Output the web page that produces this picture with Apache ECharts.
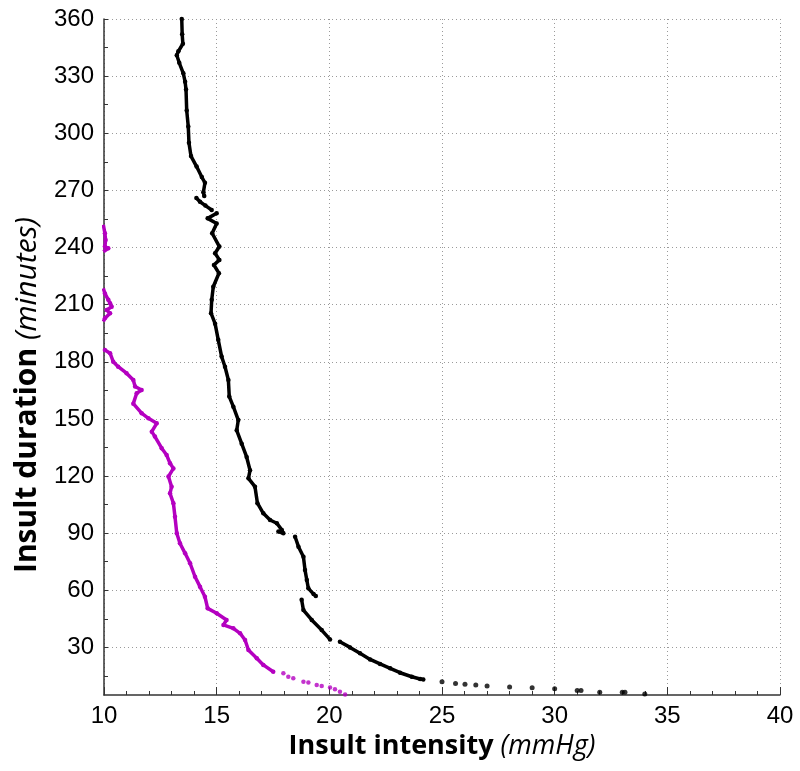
<!DOCTYPE html>
<html>
<head>
<meta charset="utf-8">
<script src="https://cdn.jsdelivr.net/npm/echarts@6/dist/echarts.min.js"></script>
<style>
  html, body { margin: 0; padding: 0; background: #fff; }
  #chart { width: 800px; height: 771px; }
</style>
</head>
<body>
<div id="chart"></div>
<script>
// tick values
const xTicks = [10, 15, 20, 25, 30, 35, 40]
const yTicks = [30, 60, 90, 120, 150, 180, 210, 240, 270, 300, 330, 360]
const yMinorTicks = [15, 45, 75, 105, 135, 165, 195, 225, 255, 285, 315, 345]

// black curve, [intensity mmHg, duration min]
const blackTop = [
  [13.45, 360], [13.47, 352], [13.5, 347], [13.3, 343], [13.23, 341], [13.34, 337],
  [13.52, 331.5], [13.6, 327], [13.64, 323], [13.67, 312], [13.74, 303.5],
  [13.77, 295], [13.86, 288], [14.11, 282.5], [14.34, 277], [14.48, 274],
  [14.41, 269], [14.45, 267]
]
const blackDash = [[14.1, 266], [14.26, 264], [14.5, 262], [14.78, 259.7]]
const blackMid = [
  [15.0, 258], [14.6, 255.3], [15.0, 252.6], [14.8, 247.5], [15.12, 240.5],
  [14.93, 237], [15.12, 233.5], [14.88, 230.8], [15.1, 226.5], [14.85, 219.4],
  [14.78, 212.5], [14.75, 205.5], [14.93, 200], [15.07, 191.5], [15.22, 182.7],
  [15.37, 177.4], [15.52, 170.4], [15.56, 161.7], [15.74, 156.4], [15.96, 149.4],
  [15.89, 144], [16.11, 137], [16.33, 130], [16.48, 123], [16.41, 118.8],
  [16.7, 114.4], [16.81, 105.7], [17.07, 100.4], [17.37, 96.9], [17.67, 95.2],
  [17.89, 91.7], [17.96, 89.9], [17.74, 90.8]
]
const blackLow = [
  [18.48, 88.1], [18.63, 82.9], [18.85, 77.6], [18.92, 70.7], [19.0, 65.4],
  [19.07, 61], [19.3, 58], [19.4, 57]
]
const blackKnee = [
  [18.77, 55], [18.85, 49.6], [19.22, 44.4], [19.66, 39.1], [20.03, 34.2]
]
const blackFoot = [
  [20.47, 33], [20.92, 30], [21.36, 26.9], [21.81, 23.7], [22.25, 21.3],
  [22.7, 19], [23.14, 16.7], [23.66, 14.6], [24.03, 13.4], [24.17, 13.2]
]
const blackTail = [
  [25.0, 12], [25.6, 11.1], [26.02, 10.6], [26.5, 10.3], [27.0, 9.7],
  [28.0, 9.2], [29.0, 8.8], [30.0, 8.3], [31.0, 7.3], [31.17, 7.3],
  [32.0, 6.4], [33.0, 6.4], [33.12, 6.4], [34.0, 5.5]
]

// magenta curve
const magentaTop = [
  [9.97, 251.9], [10.04, 247.5], [10.07, 244], [10.04, 240.5], [10.19, 239.6], [9.97, 237.8]
]
const magentaMid = [
  [9.97, 218.6], [10.04, 215.9], [10.19, 212.5], [10.27, 210.7], [10.34, 208.9],
  [10.12, 207.2], [10.27, 205.5], [10.04, 202.8], [9.97, 201.1]
]
const magentaLow = [
  [10.04, 186.2], [10.27, 184.5], [10.41, 180], [10.63, 177.4], [11.0, 174],
  [11.3, 170.4], [11.38, 167], [11.67, 165.2], [11.45, 163.5], [11.3, 158],
  [11.67, 153], [11.97, 150.3], [12.34, 147.7], [12.12, 143.3], [12.26, 140.7],
  [12.56, 134.6], [12.78, 131], [12.93, 126.7], [13.08, 124], [12.86, 119.7],
  [13.0, 114.4], [12.93, 110.9], [13.08, 105.7], [13.15, 98.6], [13.23, 89.9],
  [13.37, 84.7], [13.6, 79.4], [13.82, 74.2], [14.04, 67.1], [14.26, 61.9],
  [14.48, 56.6], [14.6, 50.5], [15.0, 47.9], [15.44, 44.4], [15.3, 41.8],
  [15.74, 40], [16.04, 37.4], [16.26, 33.9], [16.41, 28.6], [16.78, 24.3],
  [17.07, 20.8], [17.51, 17.2]
]
const magentaTail = [
  [17.96, 16.4], [18.18, 14.6], [18.4, 13.8], [18.85, 12], [19.07, 11.5],
  [19.44, 10.3], [19.66, 9.7], [20.03, 9], [20.25, 8], [20.47, 6.7], [20.7, 5.2]
]

const BLACK = '#000000'
const MAGENTA = '#b400c0'

function lineSeries(data, color) {
  return {
    type: 'line',
    data: data,
    symbol: 'circle',
    symbolSize: 4.5,
    showSymbol: true,
    showAllSymbol: true,
    itemStyle: { color: color },
    lineStyle: { color: color, width: 3.5 },
    animation: false,
    z: 3
  }
}

function dotSeries(data, color, size) {
  return {
    type: 'scatter',
    data: data,
    symbol: 'circle',
    symbolSize: size,
    itemStyle: { color: color },
    animation: false,
    z: 3
  }
}

function nameRich(size) {
  return {
    b: { fontFamily: 'Open Sans', fontWeight: 'bold', fontSize: size, color: '#000' },
    i: { fontFamily: 'Open Sans', fontStyle: 'italic', fontSize: size, color: '#000' }
  }
}

const chart = echarts.init(document.getElementById('chart'))

const option = {
  backgroundColor: '#fff',
  grid: { left: 104, right: 20, top: 19, bottom: 76 },
  xAxis: {
    type: 'value',
    min: 10,
    max: 40,
    interval: 5,
    name: '{b|Insult intensity}{i| (mmHg)}',
    nameLocation: 'middle',
    nameGap: 38,
    nameTextStyle: { rich: nameRich(27) },
    axisLine: { onZero: false, lineStyle: { color: '#333', width: 1.5 } },
    axisTick: { inside: true, length: 8, lineStyle: { color: '#333' } },
    minorTick: { show: true, splitNumber: 5, length: 4, lineStyle: { color: '#333' } },
    axisLabel: {
      fontFamily: 'Liberation Sans',
      fontSize: 24,
      color: '#000',
      margin: 9,
      customValues: xTicks
    },
    splitLine: { show: true, lineStyle: { color: '#9a9a9a', type: [1, 3], width: 1 } }
  },
  yAxis: [
    {
      type: 'value',
      min: 5,
      max: 360,
      name: '{b|Insult duration}{i| (minutes)}',
      nameLocation: 'middle',
      nameGap: 62,
      nameTextStyle: { padding: [0, 76, 0, 0], rich: nameRich(30) },
      axisLine: { show: true, onZero: false, lineStyle: { color: '#333', width: 1.5 } },
      axisTick: { show: true, inside: true, length: 4, customValues: yTicks, lineStyle: { color: '#333' } },
      axisLabel: {
        fontFamily: 'Liberation Sans',
        fontSize: 24,
        color: '#000',
        margin: 10,
        customValues: yTicks
      },
      splitLine: { show: true, lineStyle: { color: '#9a9a9a', type: [1, 3], width: 1 } }
    },
    {
      type: 'value',
      min: 5,
      max: 360,
      position: 'left',
      axisLine: { show: false },
      axisLabel: { show: false },
      splitLine: { show: false },
      axisTick: { show: true, inside: true, length: 4, customValues: yMinorTicks, lineStyle: { color: '#333' } }
    }
  ],
  series: [
    lineSeries(blackTop, BLACK),
    lineSeries(blackDash, BLACK),
    lineSeries(blackMid, BLACK),
    lineSeries(blackLow, BLACK),
    lineSeries(blackKnee, BLACK),
    lineSeries(blackFoot, BLACK),
    dotSeries(blackTail, BLACK, 5),
    lineSeries(magentaTop, MAGENTA),
    lineSeries(magentaMid, MAGENTA),
    lineSeries(magentaLow, MAGENTA),
    dotSeries(magentaTail, MAGENTA, 4.5)
  ]
}

chart.setOption(option)
</script>
</body>
</html>
